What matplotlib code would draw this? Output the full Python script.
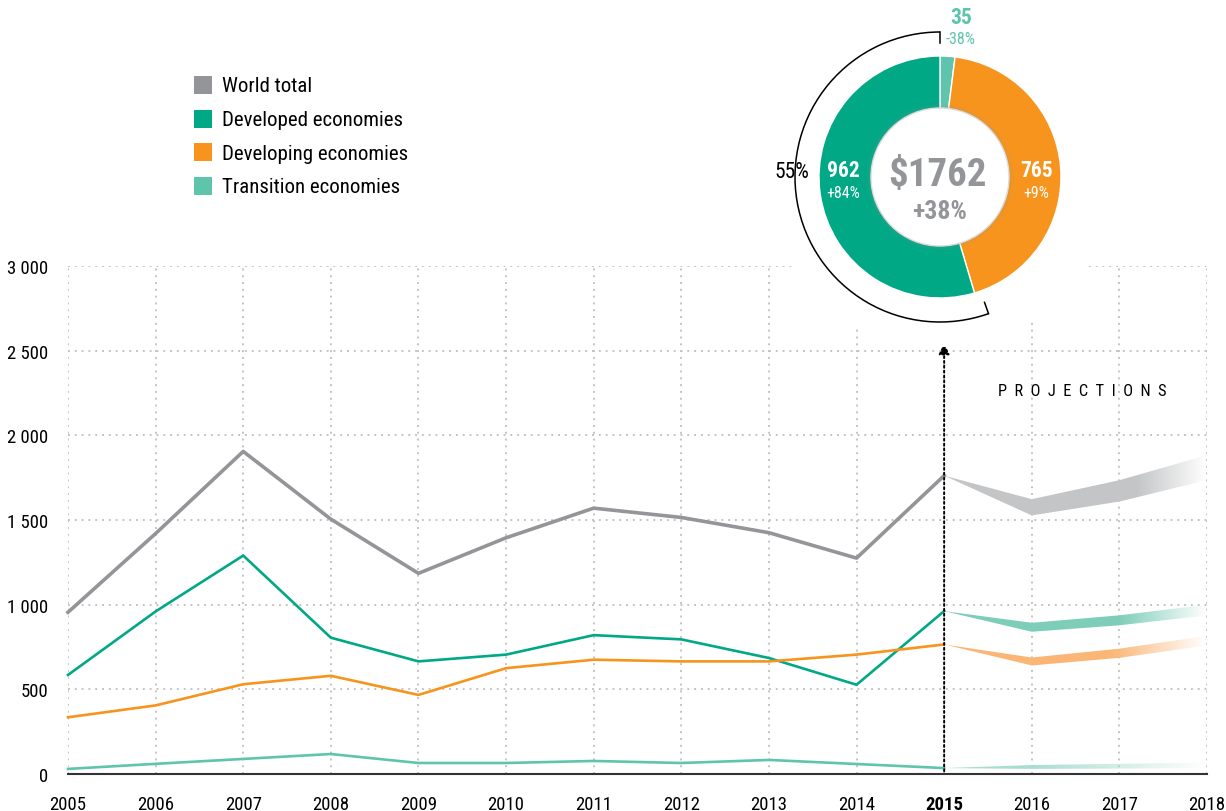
import numpy as np
import matplotlib
matplotlib.use('Agg')
import matplotlib.pyplot as plt
import matplotlib.font_manager as fm
from matplotlib.patches import Wedge, Circle, Polygon, Arc, Rectangle
from matplotlib.colors import to_rgb

# condensed face if there is one, else Liberation Sans
names = {f.name for f in fm.fontManager.ttflist}
FONT = 'Liberation Sans'
for cand in ['Roboto Condensed', 'Liberation Sans Narrow', 'Archivo Narrow', 'PT Sans Narrow']:
    if cand in names:
        FONT = cand
        break
plt.rcParams['font.family'] = [FONT, 'DejaVu Sans']

# data
years = [2005, 2006, 2007, 2008, 2009, 2010, 2011, 2012, 2013, 2014, 2015]
world = [955, 1420, 1905, 1505, 1185, 1395, 1570, 1515, 1425, 1275, 1762]
developed = [585, 960, 1290, 805, 665, 705, 820, 795, 685, 527, 962]
developing = [335, 405, 530, 580, 467, 625, 675, 665, 665, 705, 765]
transition = [30, 60, 89, 118, 65, 65, 77, 65, 83, 59, 35]

proj_years = [2015, 2016, 2017, 2018]
world_hi = [1762, 1623, 1735, 1883]
world_lo = [1762, 1527, 1609, 1735]
dev_hi = [962, 893, 937, 1000]
dev_lo = [962, 840, 878, 937]
dvg_hi = [765, 688, 740, 816]
dvg_lo = [765, 641, 686, 759]
tr_hi = [35, 53, 60, 68]
tr_lo = [35, 30, 32, 35]

donut_vals = [35, 765, 962]   # transition, developing, developed (2015)

c_world = '#939598'
c_dev = '#00A886'
c_dvg = '#F7941D'
c_tr = '#5FC4AC'

fig = plt.figure(figsize=(12.26, 8.12), dpi=100)
ax = fig.add_axes([68/1226, 1-775/812, (1207-68)/1226, (775-267)/812])
ax.set_xlim(2005, 2018)
ax.set_ylim(0, 3000)
for s in ['top', 'right', 'left']:
    ax.spines[s].set_visible(False)
ax.spines['bottom'].set_color('#333333')
ax.spines['bottom'].set_linewidth(1.5)
ax.set_xticks(range(2005, 2019))
ax.set_xticklabels([str(y) for y in range(2005, 2019)], fontsize=13.5)
ax.get_xticklabels()[10].set_fontweight('bold')
ax.set_yticks(range(0, 3001, 500))
ax.set_yticklabels(['0', '500', '1 000', '1 500', '2 000', '2 500', '3 000'], fontsize=13.5)
ax.tick_params(length=0)
ax.tick_params(axis='y', pad=14)
ax.tick_params(axis='x', pad=15)
ax.grid(True, color='#C4C4C4', linestyle=(0, (1, 2.5)), linewidth=1.4)
ax.set_axisbelow(True)

ax.plot(years, world, color=c_world, lw=2.6, clip_on=False, zorder=3)
ax.plot(years, developed, color=c_dev, lw=1.9, clip_on=False, zorder=3)
ax.plot(years, developing, color=c_dvg, lw=1.9, clip_on=False, zorder=3)
ax.plot(years, transition, color=c_tr, lw=1.9, clip_on=False, zorder=3)

# projection bands fading to white
def band(hi, lo, color, fade_start):
    pts = list(zip(proj_years, hi)) + list(zip(proj_years[::-1], lo[::-1]))
    poly = Polygon(pts, closed=True, facecolor='none', edgecolor='none')
    ax.add_patch(poly)
    xs = np.linspace(2015, 2018, 300)
    alpha = np.clip((2018 - xs) / (2018 - fade_start), 0, 1)
    rgba = np.zeros((2, len(xs), 4))
    rgba[..., :3] = to_rgb(color)
    rgba[..., 3] = alpha
    im = ax.imshow(rgba, extent=[2015, 2018, min(lo) - 5, max(hi) + 5],
                   aspect='auto', origin='lower', zorder=2, interpolation='bilinear')
    im.set_clip_path(poly)

band(world_hi, world_lo, '#C4C5C7', 2017.2)
band(dev_hi, dev_lo, '#7ECDB9', 2017.0)
band(dvg_hi, dvg_lo, '#FBB676', 2016.9)
band(tr_hi, tr_lo, '#A9DDD0', 2016.0)
ax.set_xlim(2005, 2018)
ax.set_ylim(0, 3000)

# 2015 marker arrow
ax.annotate('', xy=(2015, 2560), xytext=(2015, 0),
            arrowprops=dict(arrowstyle='-|>', color='black', lw=1.4,
                            linestyle=(0, (1, 1.5)), mutation_scale=16), zorder=4)
ax.text(2016.58, 2265, 'P  R  O  J  E  C  T  I  O  N  S', fontsize=11.8,
        ha='center', va='center')

# overlay in pixel coords for legend and donut
ov = fig.add_axes([0, 0, 1, 1])
ov.set_xlim(0, 1226)
ov.set_ylim(0, 812)
ov.axis('off')

leg = [('World total', c_world), ('Developed economies', c_dev),
       ('Developing economies', c_dvg), ('Transition economies', c_tr)]
for i, (lab, col) in enumerate(leg):
    yy = 812 - (86 + i * 33.5)
    ov.add_patch(Rectangle((194, yy - 9), 18, 18, facecolor=col, edgecolor='none'))
    ov.text(222, yy - 1, lab, fontsize=15, va='center', ha='left')

cx, cy = 940, 812 - 178
ov.add_patch(Circle((cx, cy), 170, facecolor='white', edgecolor='none', zorder=1))
total = sum(donut_vals)
start = 90
cols = [c_tr, c_dvg, c_dev]
for v, col in zip(donut_vals, cols):
    ang = v / total * 360
    ov.add_patch(Wedge((cx, cy), 121, start - ang, start, width=121 - 66,
                       facecolor=col, edgecolor='white', lw=1, zorder=2))
    start -= ang
# centre disc with soft shadow
for r, a in [(74, 0.05), (72, 0.08), (70.5, 0.12)]:
    ov.add_patch(Circle((cx, cy), r, facecolor='#999999', alpha=a, edgecolor='none', zorder=3))
ov.add_patch(Circle((cx, cy), 69, facecolor='white', edgecolor='#DDDDDD', lw=1, zorder=4))

# bracket arc around developed share
dev_ang = donut_vals[2] / total * 360
ov.add_patch(Arc((cx, cy), 290, 290, theta1=90, theta2=90 + dev_ang + 3,
                 color='black', lw=1.1, zorder=2))
ov.plot([cx, cx], [cy + 145, cy + 134], color='black', lw=1.1, zorder=2)
t = np.deg2rad(90 + dev_ang + 3)
ov.plot([cx + 145 * np.cos(t), cx + 133 * np.cos(t)],
        [cy + 145 * np.sin(t), cy + 133 * np.sin(t)], color='black', lw=1.1, zorder=2)
ov.text(792, 812 - 172, '55%', fontsize=15.5, ha='center', va='center', zorder=5)

ov.text(937, 812 - 175, '$1762', fontsize=28, fontweight='bold', color=c_world,
        ha='center', va='center', zorder=5)
ov.text(940, 812 - 212, '+38%', fontsize=18.5, fontweight='bold', color=c_world,
        ha='center', va='center', zorder=5)
ov.text(843, 812 - 171, '962', fontsize=15.5, fontweight='bold', color='white',
        ha='center', va='center', zorder=5)
ov.text(843, 812 - 193, '+84%', fontsize=11.5, color='white', ha='center', va='center', zorder=5)
ov.text(1037, 812 - 171, '765', fontsize=15.5, fontweight='bold', color='white',
        ha='center', va='center', zorder=5)
ov.text(1036, 812 - 193, '+9%', fontsize=11.5, color='white', ha='center', va='center', zorder=5)
ov.text(961, 812 - 18, '35', fontsize=15.5, fontweight='bold', color=c_tr,
        ha='center', va='center', zorder=5)
ov.text(961, 812 - 40, '-38%', fontsize=11.5, color=c_tr, ha='center', va='center', zorder=5)

fig.savefig('out.png', dpi=100)
